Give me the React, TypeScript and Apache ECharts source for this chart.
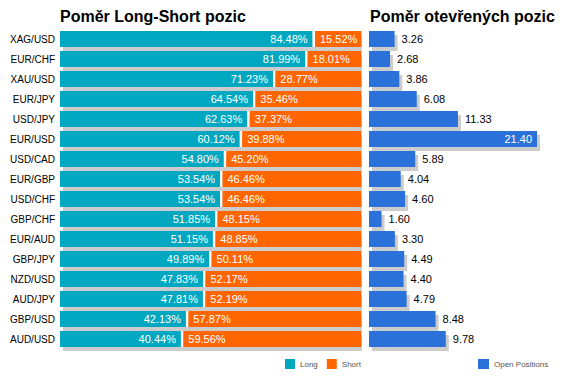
import React, { useEffect, useRef } from "react";
import * as echarts from "echarts";

const categories = ["XAG/USD", "EUR/CHF", "XAU/USD", "EUR/JPY", "USD/JPY", "EUR/USD", "USD/CAD", "EUR/GBP", "USD/CHF", "GBP/CHF", "EUR/AUD", "GBP/JPY", "NZD/USD", "AUD/JPY", "GBP/USD", "AUD/USD"];
const longValues = [84.48, 81.99, 71.23, 64.54, 62.63, 60.12, 54.80, 53.54, 53.54, 51.85, 51.15, 49.89, 47.83, 47.81, 42.13, 40.44];
const shortValues = [15.52, 18.01, 28.77, 35.46, 37.37, 39.88, 45.20, 46.46, 46.46, 48.15, 48.85, 50.11, 52.17, 52.19, 57.87, 59.56];
const openValues = [3.26, 2.68, 3.86, 6.08, 11.33, 21.40, 5.89, 4.04, 4.60, 1.60, 3.30, 4.49, 4.40, 4.79, 8.48, 9.78];

const TEAL = "#00A7C0";
const ORANGE = "#FF6600";
const BLUE = "#2A72DA";
const SHADOW = "#CCCCCC";
const FONT = "'Liberation Sans', Arial, sans-serif";
const GAP = 0.8;

export default function App() {
  const ref = useRef<HTMLDivElement>(null);
  useEffect(() => {
    if (!ref.current) return;
    const chart = echarts.init(ref.current, null, { renderer: "svg" });
    const openMax = Math.max(...openValues);
    const top = 29;
    const height = 320;
    const leftW = 299 * (100 + GAP) / 100;
    const rightW = 168;
    const catAxis = (gridIndex: number, show: boolean) => ({
      type: "category",
      gridIndex,
      data: categories,
      inverse: true,
      axisLine: { show: false },
      axisTick: { show: false },
      splitLine: { show: false },
      axisLabel: show
        ? { show: true, margin: 5, fontSize: 10, color: "#000", fontFamily: FONT }
        : { show: false },
    });
    const valAxis = (gridIndex: number, max: number) => ({
      type: "value",
      gridIndex,
      min: 0,
      max,
      show: false,
    });
    chart.setOption({
      animation: false,
      backgroundColor: "#fff",
      title: [
        { text: "Poměr Long-Short pozic", left: 55, top: 3, textStyle: { fontSize: 16, fontWeight: "bold", color: "#000", fontFamily: FONT } },
        { text: "Poměr otevřených pozic", left: 365, top: 3, textStyle: { fontSize: 16, fontWeight: "bold", color: "#000", fontFamily: FONT } },
      ],
      legend: [
        {
          data: ["Long", "Short"], left: 285, top: 359, padding: 0, itemGap: 9,
          itemWidth: 10, itemHeight: 10, icon: "rect",
          textStyle: { fontSize: 8, color: "#555", fontFamily: FONT },
        },
        {
          data: ["Open Positions"], left: 478, top: 359, padding: 0,
          itemWidth: 11, itemHeight: 10, icon: "rect",
          textStyle: { fontSize: 8, color: "#555", fontFamily: FONT },
        },
      ],
      grid: [
        { left: 63, top: top + 4, width: 299, height, containLabel: false },
        { left: 60, top, width: leftW, height, containLabel: false },
        { left: 372, top: top + 4, width: rightW, height, containLabel: false },
        { left: 369, top, width: rightW, height, containLabel: false },
      ],
      xAxis: [valAxis(0, 100), valAxis(1, 100 + GAP), valAxis(2, openMax), valAxis(3, openMax)],
      yAxis: [catAxis(0, false), catAxis(1, true), catAxis(2, false), catAxis(3, false)],
      series: [
        {
          name: "shadowLS", type: "bar", xAxisIndex: 0, yAxisIndex: 0, barWidth: 16, z: 1,
          data: longValues.map((v, i) => v + shortValues[i]),
          itemStyle: { color: SHADOW }, silent: true,
        },
        {
          name: "Long", type: "bar", stack: "ls", xAxisIndex: 1, yAxisIndex: 1, barWidth: 16, z: 2,
          data: longValues, itemStyle: { color: TEAL },
          label: { show: true, position: "insideRight", distance: 5, color: "#fff", fontSize: 11, fontFamily: FONT, formatter: (p: any) => p.value.toFixed(2) + "%" },
        },
        {
          name: "gap", type: "bar", stack: "ls", xAxisIndex: 1, yAxisIndex: 1, barWidth: 16, z: 2,
          data: longValues.map(() => GAP), itemStyle: { color: "#fff" }, silent: true,
        },
        {
          name: "Short", type: "bar", stack: "ls", xAxisIndex: 1, yAxisIndex: 1, barWidth: 16, z: 2,
          data: shortValues, itemStyle: { color: ORANGE },
          label: { show: true, position: "insideLeft", distance: 5, color: "#fff", fontSize: 11, fontFamily: FONT, formatter: (p: any) => p.value.toFixed(2) + "%" },
        },
        {
          name: "shadowOP", type: "bar", xAxisIndex: 2, yAxisIndex: 2, barWidth: 16, z: 1,
          data: openValues, itemStyle: { color: SHADOW }, silent: true,
        },
        {
          name: "Open Positions", type: "bar", xAxisIndex: 3, yAxisIndex: 3, barWidth: 16, z: 2,
          data: openValues.map((v) =>
            v === openMax
              ? { value: v, label: { position: "insideRight", color: "#fff", distance: 5 } }
              : v
          ),
          itemStyle: { color: BLUE },
          label: { show: true, position: "right", distance: 7, color: "#000", fontSize: 11, fontFamily: FONT, formatter: (p: any) => p.value.toFixed(2) },
        },
      ],
    });
    return () => chart.dispose();
  }, []);
  return <div ref={ref} style={{ width: 565, height: 380, position: "absolute", left: 0, top: 0 }} />;
}
